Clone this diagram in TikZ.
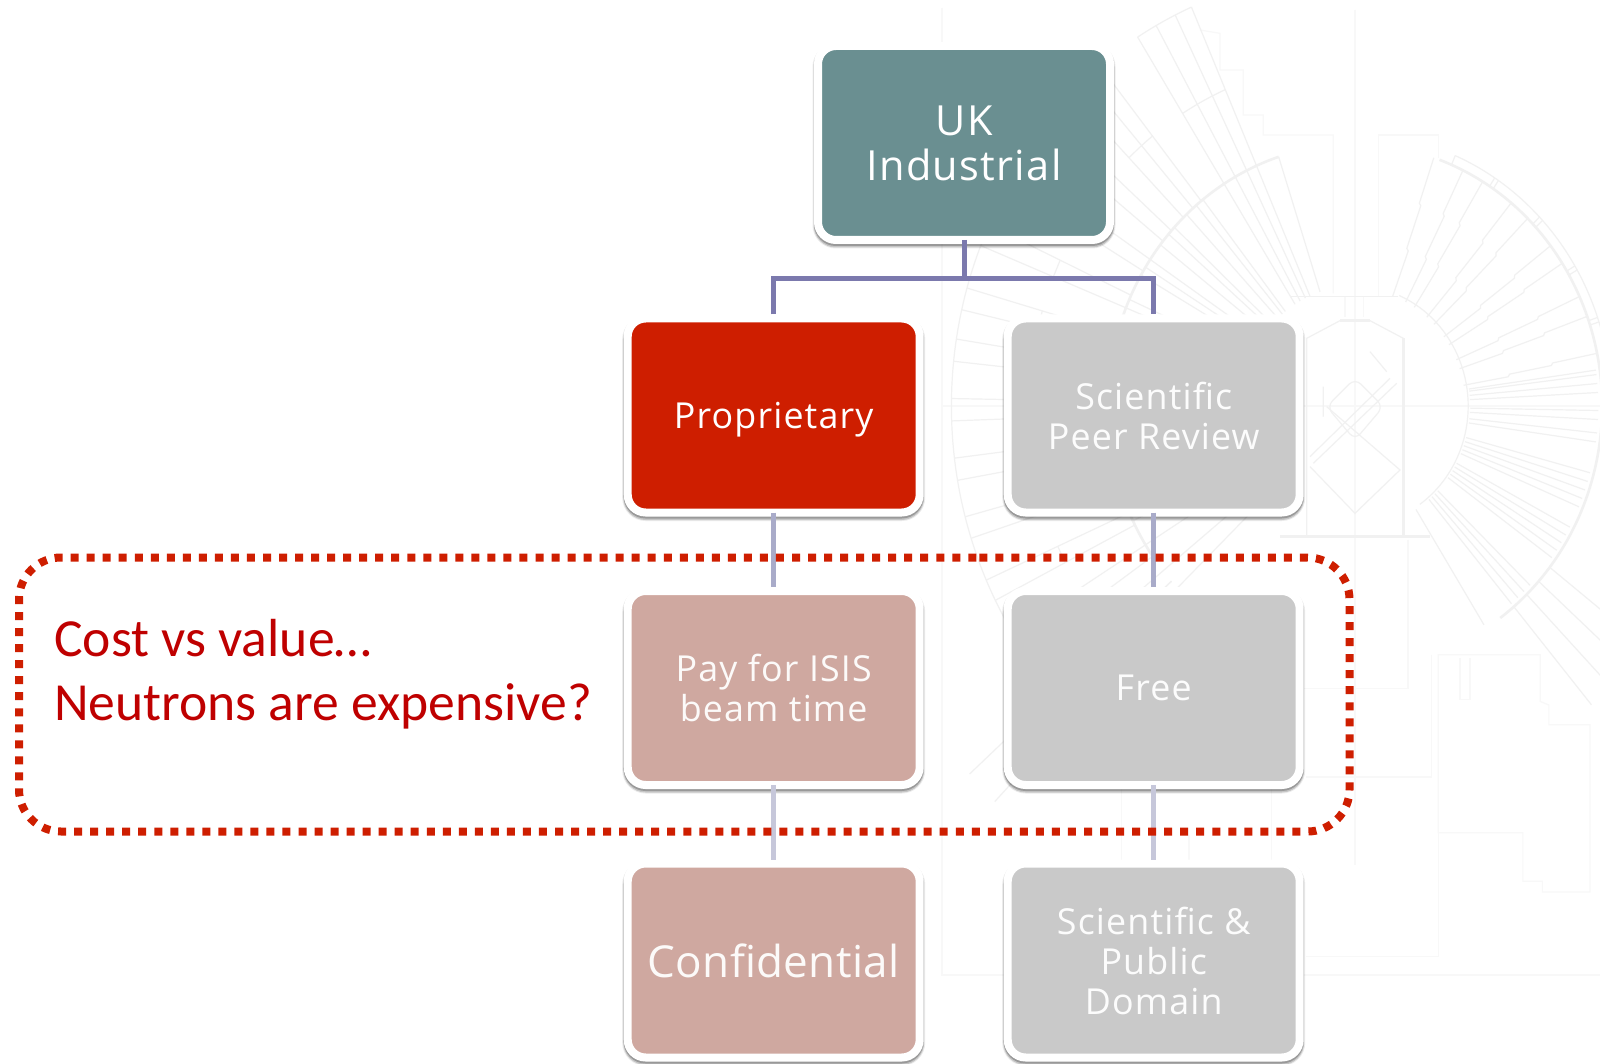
\documentclass[tikz,border=0pt]{standalone}
\usepackage{fontspec}
\setmainfont{Open Sans}
\newfontfamily\calib{Carlito}
\newfontfamily\spaced{Open Sans}[LetterSpace=3.2]
\newfontfamily\spacedsmall{Open Sans}[LetterSpace=0.8]
\definecolor{teal1}{HTML}{6A8F91}
\definecolor{red1}{HTML}{CE1E00}
\definecolor{pink1}{HTML}{CFA8A0}
\definecolor{grey1}{HTML}{C9C9C9}
\definecolor{conA}{HTML}{7B79AD}
\definecolor{conB}{HTML}{A9ABC9}
\definecolor{conC}{HTML}{C6C7DA}
\definecolor{bgl}{HTML}{F1F1F1}
\definecolor{bgf}{HTML}{F8F8F8}
\tikzset{
  card/.style={rectangle,rounded corners=18pt,minimum width=292pt,minimum height=194pt,
    inner sep=0pt,outer sep=0pt,draw=white,line width=8pt,align=center,text=white,
    preaction={draw=black,draw opacity=.08,line width=11pt,transform canvas={yshift=-3pt}},
    preaction={draw=black,draw opacity=.16,line width=9pt,transform canvas={yshift=-3pt}},
    preaction={draw=black,draw opacity=.22,line width=8pt,transform canvas={yshift=-2pt}}},
  txtA/.style={font=\spaced\fontsize{41.5}{45}\selectfont},
  txtB/.style={font=\spaced\fontsize{35.8}{40}\selectfont},
  txtC/.style={font=\spacedsmall\fontsize{44}{48}\selectfont},
  linkA/.style={draw=conA,line width=5pt},
  linkB/.style={draw=conB,line width=5pt},
  linkC/.style={draw=conC,line width=5pt},
  bgline/.style={draw=bgl,line width=1.2pt},
  bgfaint/.style={draw=bgf,line width=1.2pt},
  bgheavy/.style={draw=bgl,line width=2.6pt},
  redtxt/.style={text=red!75!black,font=\calib\fontsize{53.6}{60}\selectfont,inner sep=0pt,anchor=base west},
}
\begin{document}
\begin{tikzpicture}[x=1pt,y=-1pt]
\useasboundingbox (0,0) rectangle (1600,1064);
\fill[white] (0,0) rectangle (1600,1064);
% ---- faint background drawing ----
\draw[bgfaint] (942,8) -- (942,975) -- (1600,975);
\draw[bgfaint] (1355,10) -- (1355,865);
\draw[bgfaint] (942,406) -- (1600,406);
% stepped outline, top
\begin{scope}[shift={(1100,0)},xscale=.3333,yscale=.3333]
  \draw[bgfaint] (300,90) -- (360,100) -- (360,210) -- (430,210) -- (430,345) -- (490,345) -- (490,405) -- (700,405) -- (700,880);
\end{scope}
\begin{scope}[shift={(1340,130)},xscale=.3333,yscale=.3333]
  \draw[bgfaint] (115,500) -- (115,15) -- (295,15) -- (295,85);
  \draw[bgline] (-150,500) -- (175,500);
  \draw[bgfaint] (15,500) -- (15,560) (70,500) -- (70,560);
\end{scope}
% lower right outlines
\begin{scope}[shift={(920,500)},xscale=.4337,yscale=.3597]
  \draw[bgfaint] (1195,925) -- (1195,430) -- (1430,430) -- (1430,560) -- (1450,570) -- (1450,625) -- (1545,625) -- (1545,1090) -- (1435,1090) -- (1435,1060) -- (1390,1060) -- (1390,925) -- cycle;
  \draw[bgfaint] (1180,430) -- (1180,770) -- (890,770);
  \draw[bgfaint] (1125,110) -- (1125,525) -- (885,525);
  \draw[bgfaint] (1195,925) -- (1195,1270) -- (890,1270);
  \draw[bgfaint] (1245,440) -- (1245,555) -- (1268,555) -- (1268,440);
  \draw[bgfaint] (810,770) -- (810,1010) (465,800) -- (465,1000) (620,930) -- (620,1000);
\end{scope}
% central chamber
\begin{scope}[shift={(1290,300)},xscale=.3333,yscale=.3333]
  \draw[bgline] (50,710) -- (50,115) -- (150,62);
  \draw[bgheavy] (150,62) -- (240,62);
  \draw[bgline] (240,62) -- (340,115);
  \draw[bgheavy] (340,115) -- (340,710);
  \draw[bgheavy] (-30,710) -- (420,710);
  \draw[bgline,rounded corners=8pt] (195,235) -- (280,320) -- (195,420) -- (110,320) -- cycle;
  \draw[bgline] (300,235) -- (60,470) (320,250) -- (70,490);
  \draw[bgline] (110,320) -- (330,510) -- (195,640) -- (60,500);
  \draw[bgline] (240,155) -- (290,215) (100,260) -- (100,350);
\end{scope}
% radial fan
\begin{scope}[shift={(1355,406)},xscale=.943,yscale=-1]
  \draw[bgheavy] (70:262) arc[start angle=70,end angle=-54,radius=262];
  \draw[bgheavy] (108:262) arc[start angle=108,end angle=215,radius=262];
  \draw[bgline] (67:120) arc[start angle=67,end angle=-55,radius=120];
  \draw[bgline] (67:272) arc[start angle=67,end angle=8,radius=272];
  \draw[bgline] (67:262) -- (67:272);
  \foreach \a in {57,56,44,43,31,30,19,18} \draw[bgline] (\a:262) -- (\a:272);
  \foreach \a in {70,62.7,57.5,49.4,44.3,36.3,31.6,23.3,18.6,10.2}
    \draw[bgline] (\a:117) -- (\a:165) -- ({\a+.8}:167) -- ({\a+.8}:212) -- ({\a+1.4}:214) -- ({\a+1.4}:262);
  \foreach \a in {8,7,5,3,-1,-3,-6,-8,-15,-17,-19,-21,-23,-28,-30,-32,-34,-36,-44,-46,-48,-50,-58}
    \draw[bgline] (\a:122) -- (\a:258);
  \foreach \a in {-38,-42,-46,-50} \draw[bgline] (\a:262) -- (\a:390);
  \foreach \a in {108,113.5,116,119,122,128,130,133,137,139,142,146,148,150,156,158,160,168,172,176,184,190,196,206,212,219,224}
    \draw[bgline] (\a:120) -- (\a:262);
  \foreach \a in {113.5,116,119,122,128.5,131,134,138,141}
    \draw[bgline] (\a:262) -- (\a:435);
  \draw[bgline] (113.5:435) arc[start angle=113.5,end angle=122,radius=435];
  \draw[bgline] (113.5:345) arc[start angle=113.5,end angle=122,radius=345];
  \draw[bgline] (128.5:345) arc[start angle=128.5,end angle=134,radius=345];
  \foreach \a in {146,149,155,158,164,167,171,174,179,182,187,190,195,198,204,207,212,215,219,222}
    \draw[bgline] (\a:262) -- (\a:428);
  \draw[bgline] (138:428) arc[start angle=138,end angle=225,radius=428];
  \foreach \a in {146,155,164,171,179,187,195,204,212,219}
    \draw[bgline] (\a:345) -- ({\a+3}:345);
  \draw[bgline] (222:262) -- (222:550) (226:262) -- (226:550);
\end{scope}
% ---- cards ----
\node[card,fill=teal1,txtA] (top) at (964,143) {UK\\Industrial};
\node[card,fill=red1,txtB] (prop) at (773.7,415.5) {\raisebox{0pt}[\height][0pt]{Proprietary}};
\node[card,fill=grey1,txtB,text=white!94!grey1] (peer) at (1153.7,415.5) {Scientific\\Peer Review};
\node[card,fill=pink1,txtB,text=white!94!pink1] (pay) at (773.7,688) {Pay for ISIS\\beam time};
\node[card,fill=grey1,txtB,text=white!94!grey1] (free) at (1153.7,688) {Free};
\node[card,fill=pink1,txtC,text=white!94!pink1] (conf) at (773.7,960.5) {Confidential};
\node[card,fill=grey1,txtB,text=white!94!grey1] (pub) at (1153.7,960.5) {Scientific \&\\Public\\Domain};
% ---- connectors ----
\coordinate (bus) at (964,279);
\draw[linkA] (top.south) -- (bus);
\draw[linkA,line join=miter] ([yshift=4pt]prop.north) |- (bus) -| ([yshift=4pt]peer.north);
\draw[linkB] (prop.south) -- ([yshift=4pt]pay.north);
\draw[linkB] (peer.south) -- ([yshift=4pt]free.north);
\draw[linkC] (pay.south) -- ([yshift=4pt]conf.north);
\draw[linkC] (free.south) -- ([yshift=4pt]pub.north);
% ---- dotted frame and label ----
\draw[draw=red1,line width=8pt,dash pattern=on 8pt off 8.03pt,rounded corners=42pt]
  (937.3,557.5) -- (1349.5,557.5) -- (1349.5,831.5) -- (19,831.5) -- (19,557.5) -- cycle;
\node[redtxt] (cost) at (54,656.5) {Cost vs value…};
\node[redtxt] (neut) at (54,720.5) {Neutrons are expensive?};
\end{tikzpicture}
\end{document}
